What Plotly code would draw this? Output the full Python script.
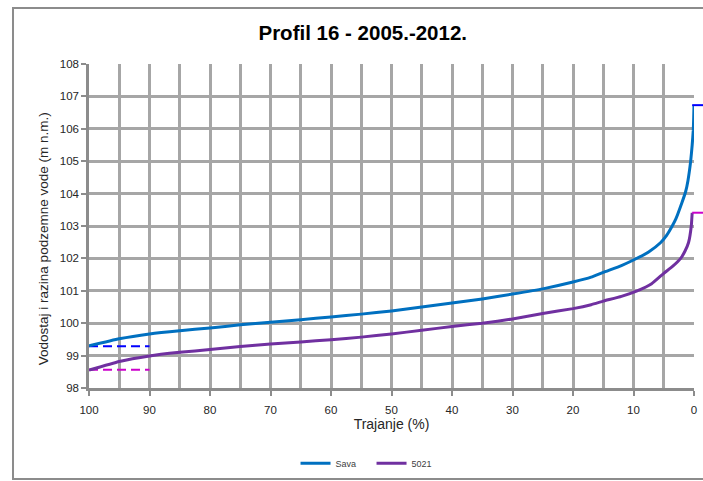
import plotly.graph_objects as go

# Duration curves (% of time a level is exceeded) for the Sava gauge and well 5021
sava_pct = [100, 95, 90, 85, 80, 75, 70, 65, 60, 55, 50, 45, 40, 35, 30, 25, 20, 17,
            15, 12, 10, 7.5, 5.5, 4.5, 3.6, 3.0, 2.0, 1.4, 1.0, 0.55, 0.3, 0.12, 0.05, 0]
sava_lvl = [99.30, 99.52, 99.67, 99.77, 99.85, 99.95, 100.03, 100.11, 100.19, 100.28,
            100.38, 100.50, 100.62, 100.75, 100.90, 101.06, 101.27, 101.42,
            101.57, 101.78, 101.95, 102.20, 102.49, 102.72, 103.00, 103.22, 103.72,
            104.05, 104.40, 105.00, 105.50, 105.95, 106.35, 106.73]

w5021_pct = [100, 95, 90, 85, 80, 75, 70, 65, 60, 55, 50, 45, 40, 35, 30, 25, 20, 17,
             15, 12, 9.4, 7, 5, 3.5, 2.2, 1.5, 0.9, 0.45, 0.3]
w5021_lvl = [98.55, 98.82, 98.99, 99.10, 99.19, 99.28, 99.36, 99.42, 99.49, 99.57,
             99.67, 99.78, 99.90, 100.00, 100.13, 100.30, 100.45, 100.57,
             100.68, 100.83, 101.00, 101.22, 101.54, 101.76, 102.00, 102.22, 102.49,
             103.00, 103.41]

# Reference levels (low and high marks) for each series
sava_low, sava_high = 99.29, 106.73
w5021_low, w5021_high = 98.56, 103.41
low_span = [100, 90]

x_ticks = [100, 90, 80, 70, 60, 50, 40, 30, 20, 10, 0]
y_ticks = [98, 99, 100, 101, 102, 103, 104, 105, 106, 107, 108]

SAVA_C = "#0070C0"
W5021_C = "#7030A0"
GRID_C = "#A6A6A6"
AXIS_C = "#8C8C8C"
FONT = "Liberation Sans, Arial"

fig = go.Figure()

fig.add_trace(go.Scatter(x=low_span, y=[sava_low] * 2, mode="lines", showlegend=False,
                         line=dict(color="#0000FF", width=2, dash="9px,5px")))
fig.add_trace(go.Scatter(x=low_span, y=[w5021_low] * 2, mode="lines", showlegend=False,
                         line=dict(color="#CC00CC", width=2, dash="9px,5px")))

fig.add_trace(go.Scatter(x=sava_pct, y=sava_lvl, mode="lines", name="Sava",
                         line=dict(color=SAVA_C, width=3, shape="spline", smoothing=0.4)))
fig.add_trace(go.Scatter(x=w5021_pct, y=w5021_lvl, mode="lines", name="5021",
                         line=dict(color=W5021_C, width=3, shape="spline", smoothing=0.4)))

# High marks run from the curve tops out past the right edge of the plot
for lvl, col in [(sava_high, "#0000FF"), (w5021_high, "#CC00CC")]:
    fig.add_shape(type="line", xref="paper", yref="y", x0=0.997, x1=1.03, y0=lvl, y1=lvl,
                  line=dict(color=col, width=2), layer="above")

# Outer chart frame
fig.add_shape(type="rect", xref="paper", yref="paper",
              x0=-0.1256, x1=1.05, y0=-0.281, y1=1.1728,
              line=dict(color="#8C8C8C", width=2), fillcolor="rgba(0,0,0,0)", layer="below")

fig.add_annotation(text="Vodostaj i razina podzemne vode (m n.m.)", textangle=-90,
                   xref="paper", yref="paper", x=-0.074, y=0.46, showarrow=False,
                   xanchor="center", yanchor="middle",
                   font=dict(family=FONT, size=13.5, color="#262626"))

fig.update_layout(
    width=703, height=481,
    margin=dict(l=89, r=9, t=64, b=93, autoexpand=False),
    paper_bgcolor="white", plot_bgcolor="white",
    title=dict(text="<b>Profil 16 - 2005.-2012.</b>", x=0.516, xanchor="center",
               y=1 - 33 / 481, yanchor="middle",
               font=dict(family=FONT, size=20.5, color="black")),
    legend=dict(orientation="h", x=0.467, xanchor="center", y=-0.232, yanchor="middle",
                font=dict(family=FONT, size=9, color="#404040"),
                itemwidth=30, entrywidth=31, bgcolor="rgba(0,0,0,0)"),
    showlegend=True,
)

fig.update_xaxes(
    range=[100, 0], tickvals=x_ticks, ticktext=[str(v) for v in x_ticks],
    showgrid=True, gridcolor=GRID_C, gridwidth=2.5,
    minor=dict(dtick=5, showgrid=True, gridcolor=GRID_C, gridwidth=2.5, ticks=""),
    showline=True, linecolor=AXIS_C, linewidth=2.5,
    ticks="outside", ticklen=5, tickwidth=2, tickcolor=AXIS_C, ticklabelstandoff=4,
    tickfont=dict(family=FONT, size=11.5, color="#262626"),
    title=dict(text="Trajanje (%)", standoff=4,
               font=dict(family=FONT, size=14, color="#262626")),
    zeroline=False, automargin=False,
)
fig.update_yaxes(
    range=[98, 108], tickvals=y_ticks, ticktext=[str(v) for v in y_ticks],
    showgrid=True, gridcolor=GRID_C, gridwidth=2.5,
    showline=True, linecolor=AXIS_C, linewidth=2.5,
    ticks="outside", ticklen=5, tickwidth=2, tickcolor=AXIS_C,
    tickfont=dict(family=FONT, size=11.5, color="#262626"),
    zeroline=False, automargin=False,
)

fig.write_html("out.html")
